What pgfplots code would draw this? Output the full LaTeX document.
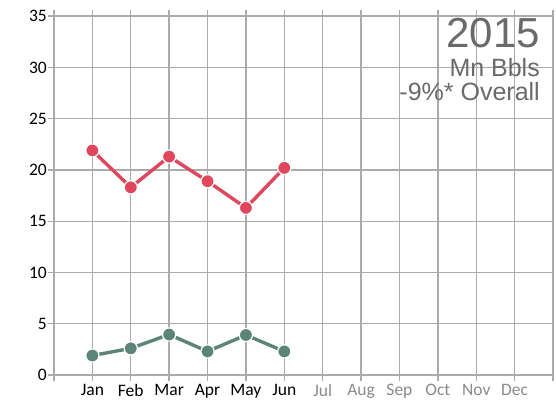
\documentclass[border=0pt]{standalone}
\usepackage{pgfplots}
\pgfplotsset{compat=1.18}
\usepackage{fontspec}
\setmainfont{Carlito}
\newfontfamily\arialf{Liberation Sans}
\definecolor{redline}{HTML}{E0475C}
\definecolor{greenline}{HTML}{5B8579}
\definecolor{gridc}{HTML}{ABABAB}
\definecolor{titlec}{HTML}{6A6A6A}
\definecolor{mlabel}{HTML}{8A8A8A}
\begin{document}
\begin{tikzpicture}[x=1pt,y=1pt]
\useasboundingbox (0,0) rectangle (556,-404);
\begin{axis}[
  at={(54pt,-375pt)}, anchor=south west,
  scale only axis, width=499pt, height=365pt,
  xmin=0, xmax=13, ymin=0, ymax=35.6,
  axis x line=bottom, axis y line=left,
  axis line style={-, gridc, line width=1.4pt},
  xtick={0,...,13},
  xticklabels={,Jan,Feb,Mar,Apr,May,Jun,\textcolor{mlabel}{Jul},\textcolor{mlabel}{Aug},\textcolor{mlabel}{Sep},\textcolor{mlabel}{Oct},\textcolor{mlabel}{Nov},\textcolor{mlabel}{Dec},},
  ytick={0,5,...,35},
  grid=major,
  major grid style={gridc, line width=1.4pt},
  tick align=outside, major tick length=6pt,
  tick style={gridc, line width=1.4pt},
  ticklabel style={font=\fontsize{17.5}{19}\selectfont, text=black},
  yticklabel style={inner sep=1pt},
  xticklabel style={inner sep=3pt},
  /pgf/number format/assume math mode=true,
  clip=false,
]
\addplot[redline, line width=3.4pt, mark=*, mark size=6.6pt, mark options={draw=white, line width=1.2pt, fill=redline}]
  coordinates {(1,21.9) (2,18.3) (3,21.3) (4,18.9) (5,16.3) (6,20.2)};
\addplot[greenline, line width=3.4pt, mark=*, mark size=6.6pt, mark options={draw=white, line width=1.2pt, fill=greenline}]
  coordinates {(1,1.9) (2,2.6) (3,3.95) (4,2.3) (5,3.9) (6,2.3)};
\end{axis}
\node[anchor=base east, inner sep=0, text=titlec, font=\arialf\fontsize{42}{42}\selectfont] at (540,-48) {2015};
\node[anchor=base east, inner sep=0, text=titlec, font=\arialf\fontsize{25}{25}\selectfont] at (540,-76) {Mn Bbls};
\node[anchor=base east, inner sep=0, text=titlec, font=\arialf\fontsize{25}{25}\selectfont] at (540,-100) {-9\%* Overall};
\end{tikzpicture}
\end{document}
